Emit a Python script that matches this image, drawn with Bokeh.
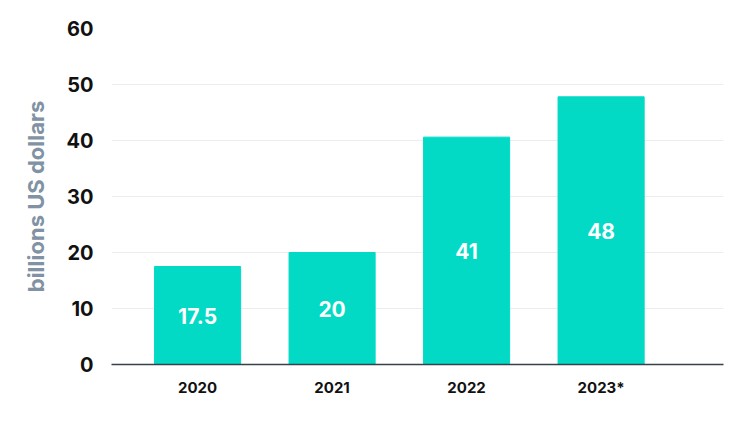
from bokeh.plotting import figure
from bokeh.models import ColumnDataSource, FixedTicker, Range1d
from bokeh.core.properties import value
from bokeh.embed import file_html
from bokeh.resources import INLINE

years = ["2020", "2021", "2022", "2023*"]
values = [17.5, 20.0, 40.6, 47.8]
labels = ["17.5", "20", "41", "48"]
y_ticks = [0, 10, 20, 30, 40, 50, 60]

xs = list(range(len(years)))
src = ColumnDataSource(dict(x=xs, top=values, mid=[v / 2 for v in values], lab=labels))

p = figure(width=739, height=411, output_backend="svg", toolbar_location=None,
           x_range=Range1d(-0.64, 3.91), y_range=Range1d(0, 60),
           min_border_left=111, min_border_right=16, min_border_top=28, min_border_bottom=47)
p.outline_line_color = None
p.background_fill_color = "white"
p.border_fill_color = "white"

p.vbar(x="x", top="top", width=0.64, bottom=0, source=src, color="#02dac5")
p.text(x="x", y="mid", text="lab", source=src, text_color="white",
       text_font=value("Inter"), text_font_style="bold", text_font_size="21px",
       text_align="center", text_baseline="middle")

p.xgrid.grid_line_color = None
p.ygrid.grid_line_color = "#ececec"
p.ygrid.ticker = FixedTicker(ticks=y_ticks)

p.yaxis.ticker = FixedTicker(ticks=y_ticks)
p.yaxis.axis_line_color = None
p.yaxis.major_tick_line_color = None
p.yaxis.minor_tick_line_color = None
p.yaxis.major_label_text_font = "Inter"
p.yaxis.major_label_text_font_style = "bold"
p.yaxis.major_label_text_font_size = "20px"
p.yaxis.major_label_text_color = "#111111"
p.yaxis.major_label_standoff = 12
p.yaxis.axis_label = "billions US dollars"
p.yaxis.axis_label_text_font = "Inter"
p.yaxis.axis_label_text_font_style = "bold"
p.yaxis.axis_label_text_font_size = "22px"
p.yaxis.axis_label_text_color = "#8092a3"
p.yaxis.axis_label_standoff = 14

p.xaxis.ticker = FixedTicker(ticks=xs)
p.xaxis.major_label_overrides = {i: y for i, y in zip(xs, years)}
p.xaxis.axis_line_color = "#37414b"
p.xaxis.axis_line_width = 1.5
p.xaxis.major_tick_line_color = None
p.xaxis.minor_tick_line_color = None
p.xaxis.major_label_text_font = "Inter"
p.xaxis.major_label_text_font_style = "bold"
p.xaxis.major_label_text_font_size = "15px"
p.xaxis.major_label_text_color = "#111111"
p.xaxis.major_label_standoff = 7

open("out.html", "w").write(file_html(p, INLINE))
